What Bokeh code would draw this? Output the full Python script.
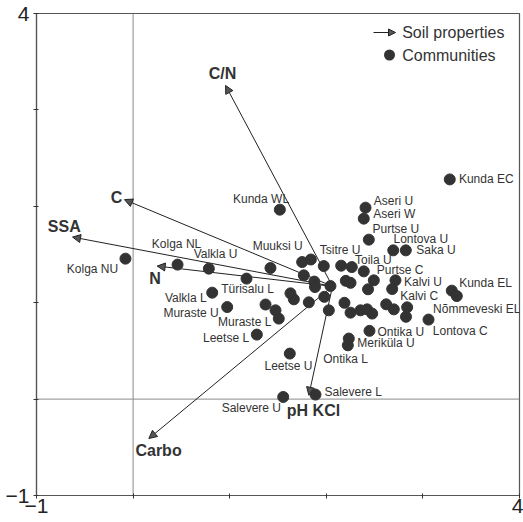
from bokeh.plotting import figure
from bokeh.models import (ColumnDataSource, Range1d, Span, Arrow, NormalHead, Label,
                          BoxAnnotation, FixedTicker)
from bokeh.core.properties import value
from bokeh.embed import file_html
from bokeh.resources import INLINE

# ---------------- data ----------------
# community scores (ordination axes 1 and 2); name "" = unlabeled point
comm_names = ["Kunda EC", "Aseri U", "Aseri W", "Purtse U", "Lontova U", "Saka U",
              "Toila U", "Tsitre U", "Purtse C", "Kalvi U", "Kalvi C", "Kunda EL",
              "Nõmmeveski EL", "Lontova C", "Ontika U", "Meriküla U", "Ontika L",
              "Leetse U", "Leetse L", "Salevere U", "Salevere L", "Kunda WL",
              "Muuksi U", "Kolga NL", "Valkla U", "Türisalu L", "Valkla L",
              "Muraste U", "Muraste L", "Kolga NU",
              "", "", "", "", "", "", "", "", "", "", "", "", "", "", "", "", "",
              "", "", "", "", "", "", "", "", "", "", ""]
comm_x = [3.278, 2.406, 2.388, 2.440, 2.693, 2.823,
          2.264, 1.974, 2.388, 2.716, 2.682, 3.299,
          2.837, 3.058, 2.447, 2.233, 2.223,
          1.622, 1.281, 1.554, 1.888, 1.519,
          1.422, 0.460, 0.784, 1.174, 0.819,
          0.974, 1.508, -0.079,
          3.351, 1.750, 1.840, 2.154, 1.767, 1.876, 1.883, 2.043, 1.979, 2.202,
          2.251, 2.492, 2.432, 1.629, 1.664, 1.819, 1.371, 1.474, 2.026, 2.188,
          2.251, 2.354, 2.423, 2.475, 2.620, 2.699, 2.825]
comm_y = [2.279, 1.986, 1.872, 1.654, 1.543, 1.543,
          1.370, 1.380, 1.325, 1.232, 1.142, 1.125,
          0.952, 0.825, 0.708, 0.628, 0.558,
          0.472, 0.669, 0.022, 0.047, 1.965,
          1.360, 1.395, 1.353, 1.250, 1.104,
          0.955, 0.835, 1.457,
          1.069, 1.422, 1.448, 1.384, 1.284, 1.219, 1.163, 1.173, 1.061, 1.227,
          1.206, 1.232, 1.139, 1.097, 1.035, 1.004, 0.981, 0.921, 0.921, 0.999,
          0.897, 0.921, 0.931, 0.887, 0.983, 0.931, 0.854]

# soil property vectors
prop_names = ["C/N", "C", "SSA", "N", "Carbo", "pH KCl"]
prop_origin_x = [2.064] * 6
prop_origin_y = [1.170] * 6
prop_x = [0.957, -0.089, -0.627, 0.249, 0.163, 1.819]
prop_y = [3.254, 2.069, 1.681, 1.380, -0.409, 0.040]

# axis ticks and the tick labels shown
tick_values = [-1, 0, 1, 2, 3, 4]
tick_labels = ["\u22121", "", "", "", "", "4"]

legend_labels = ["Soil properties", "Communities"]

# ---------------- style (label offsets in px) ----------------
comm_dx = [36.5, 28, 30.5, 27, 27.6, 30.2, 21.5, 16.4, 36.4, 27.5, 27.1, 33.7,
           69.6, 31.7, 31.3, 37.2, -2.3, -1.3, -30.8, -31.9, 37.7, -18.8,
           7.2, -1, 6.7, 1, -26.4, -36.1, -34.1, -33]
comm_dy = [0, -6.6, -5, -10.3, -11, 0, -7.4, -15.7, -1.7, 1.3, 7, -7.6,
           1.3, 11.7, 1.2, 4.4, 13.3, 12.4, 3.4, 11, -2.6, -11,
           -21.7, -21, -15, 10.7, 5.4, 6, 3.4, 10.7]
prop_dx = [-3, -8, -8.3, -2.2, 9.7, 4.7]
prop_dy = [-12, -2.6, -11, 12.6, 11.7, 15]

FONT = "Liberation Sans"
DARK = "#333333"

p = figure(width=523, height=522, x_range=Range1d(-1, 4), y_range=Range1d(-1, 4),
           output_backend="svg", toolbar_location=None,
           min_border_left=36, min_border_right=4, min_border_top=13, min_border_bottom=27)
p.xgrid.visible = False
p.ygrid.visible = False
p.outline_line_color = "#555555"
p.outline_line_width = 1.2
p.background_fill_color = "white"
p.border_fill_color = "white"

for ax, standoff in ((p.xaxis[0], 0), (p.yaxis[0], 4)):
    ax.ticker = FixedTicker(ticks=tick_values)
    ax.major_label_overrides = dict(zip(tick_values, tick_labels))
    ax.major_label_text_font = FONT
    ax.major_label_text_font_size = "21px"
    ax.major_label_text_color = "#222222"
    ax.major_label_standoff = standoff
    ax.major_tick_in = 2
    ax.major_tick_out = 3
    ax.minor_tick_line_color = None
    ax.axis_line_color = "#555555"
    ax.axis_line_width = 1.2
    ax.major_tick_line_color = "#333333"

# zero lines
p.add_layout(Span(location=0, dimension="height", line_color="#8a8a8a", line_width=1, level="underlay"))
p.add_layout(Span(location=0, dimension="width", line_color="#8a8a8a", line_width=1, level="underlay"))

# soil property arrows
arr_src = ColumnDataSource(dict(x0=prop_origin_x, y0=prop_origin_y, x1=prop_x, y1=prop_y))
p.add_layout(Arrow(source=arr_src, x_start="x0", y_start="y0", x_end="x1", y_end="y1",
                   line_color="#222222", line_width=1, level="underlay",
                   end=NormalHead(size=8, fill_color="#555555", line_color="#222222", line_width=1)))

# communities
p.scatter(comm_x, comm_y, size=11, fill_color=DARK, line_color=DARK)

lab = [(n, x, y) for n, x, y in zip(comm_names, comm_x, comm_y) if n]
lab_src = ColumnDataSource(dict(name=[a[0] for a in lab], x=[a[1] for a in lab], y=[a[2] for a in lab],
                                dx=comm_dx, dy=comm_dy))
p.text(x="x", y="y", text="name", x_offset="dx", y_offset="dy", source=lab_src,
       text_align="center", text_baseline="middle", text_font=value(FONT),
       text_font_size="12px", text_color=DARK)

prop_src = ColumnDataSource(dict(name=prop_names, x=prop_x, y=prop_y, dx=prop_dx, dy=prop_dy))
p.text(x="x", y="y", text="name", x_offset="dx", y_offset="dy", source=prop_src,
       text_align="center", text_baseline="middle", text_font=value(FONT),
       text_font_size="16px", text_font_style="bold", text_color=DARK)

# legend
p.add_layout(Arrow(x_start=337, y_start=463, x_end=359, y_end=463,
                   start_units="screen", end_units="screen",
                   line_color="#222222", line_width=1,
                   end=NormalHead(size=7, fill_color="#555555", line_color="#222222", line_width=1)))
p.add_layout(Label(x=365.7, y=463, x_units="screen", y_units="screen", text=legend_labels[0],
                   text_baseline="middle", text_font=FONT, text_font_size="16px", text_color=DARK))
p.add_layout(BoxAnnotation(left=347.5, right=358.5, bottom=435, top=446,
                           left_units="screen", right_units="screen",
                           bottom_units="screen", top_units="screen",
                           border_radius=6, fill_color=DARK, fill_alpha=1, line_color=None))
p.add_layout(Label(x=365.7, y=440, x_units="screen", y_units="screen", text=legend_labels[1],
                   text_baseline="middle", text_font=FONT, text_font_size="16px", text_color=DARK))

open("out.html", "w").write(file_html(p, INLINE))
